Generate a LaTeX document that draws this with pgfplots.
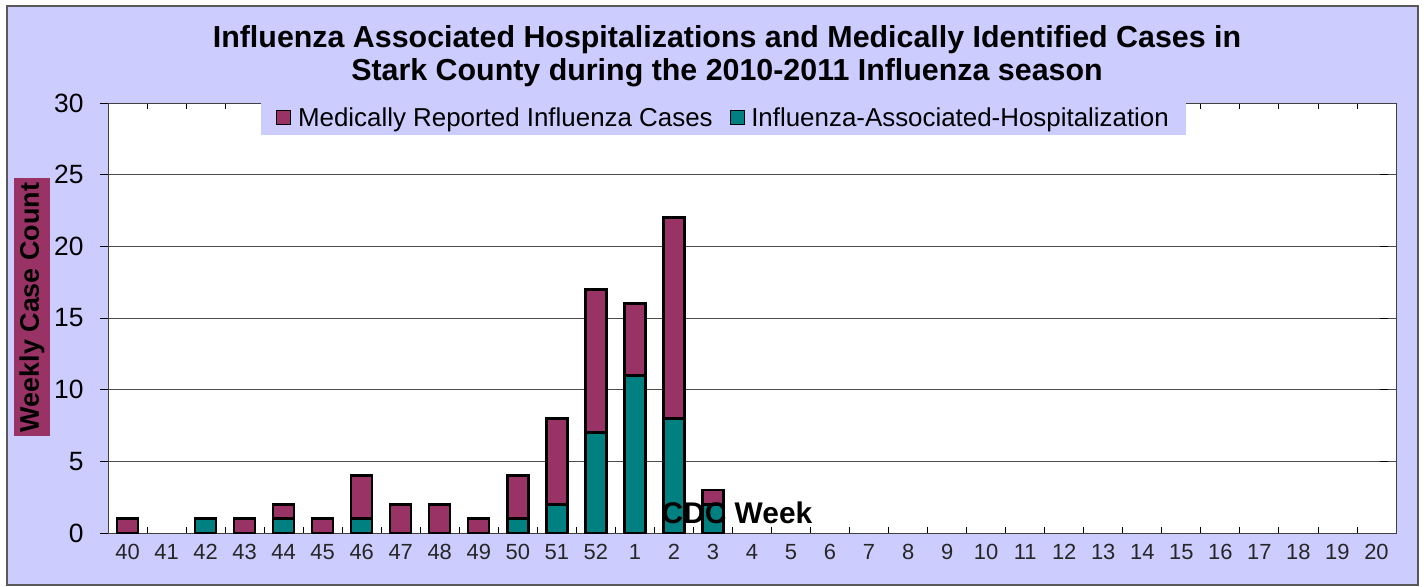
\documentclass[border=0pt]{standalone}
\usepackage{pgfplots}
\pgfplotsset{compat=1.18}
\usepackage{fontspec}
\setmainfont{Liberation Sans}
\definecolor{bg}{HTML}{CCCCFF}
\definecolor{plum}{HTML}{993366}
\definecolor{tealc}{HTML}{008080}
\begin{document}
\begin{tikzpicture}
\useasboundingbox (-108bp,-54bp) rectangle (1316bp,533bp);
\fill[white] (-108bp,-54bp) rectangle (1316bp,533bp);
\filldraw[fill=bg, draw=black!65, line width=2bp] (-101bp,-52bp) rectangle (1310bp,527bp);
\begin{axis}[
  at={(0,0)}, anchor=south west,
  scale only axis, width=1288bp, height=430bp,
  axis background/.style={fill=white},
  ybar stacked, bar width=21bp,
  xmin=-0.5, xmax=32.5, ymin=0, ymax=30,
  xtick={0,...,32},
  xticklabels={40,41,42,43,44,45,46,47,48,49,50,51,52,1,2,3,4,5,6,7,8,9,10,11,12,13,14,15,16,17,18,19,20},
  minor xtick={-0.5,0.5,...,32.5},
  ytick={0,5,...,30},
  ymajorgrids,
  major grid style={black!70, line width=0.8bp},
  tick align=inside,
  major tick length=8bp, minor tick length=6bp,
  major x tick style={draw=none},
  minor x tick style={black, line width=0.8bp},
  y tick style={black, line width=0.8bp, xshift=-8bp},
  axis line style={black!75, line width=0.9bp},
  /pgf/number format/assume math mode=true,
  yticklabel style={font=\fontsize{26.5}{30}\selectfont, xshift=-21bp},
  xticklabel style={font=\fontsize{22}{26}\selectfont, yshift=-8bp, text=black!85},
  every axis plot/.append style={draw=black, line width=2.4bp},
  reverse legend,
  legend columns=2,
  legend style={at={(0.478,0.965)}, anchor=center, fill=bg, draw=none,
    font=\fontsize{26}{30}\selectfont, inner xsep=15bp, inner ysep=5bp,
    /tikz/every even column/.append style={column sep=15bp}},
  legend image code/.code={\draw[#1, line width=0.8bp] (0bp,-6bp) rectangle (14bp,8bp); \path (18bp,0bp);},
]
\addplot[fill=tealc] coordinates {(0,0) (2,1) (3,0) (4,1) (5,0) (6,1) (7,0) (8,0) (9,0) (10,1) (11,2) (12,7) (13,11) (14,8) (15,2)};
\addlegendentry{Influenza-Associated-Hospitalization}
\addplot[fill=plum] coordinates {(0,1) (2,0) (3,1) (4,1) (5,1) (6,3) (7,2) (8,2) (9,1) (10,3) (11,6) (12,10) (13,5) (14,14) (15,1)};
\addlegendentry{Medically Reported Influenza Cases}
\end{axis}
\node[font=\fontsize{30.5}{33}\selectfont\bfseries, align=center] at (619bp,476.5bp)
  {Influenza Associated Hospitalizations and Medically Identified Cases in\\Stark County during the 2010-2011 Influenza season};
\node[fill=plum, rotate=90, minimum width=258bp, minimum height=36bp, inner sep=0pt,
  font=\fontsize{27}{30}\selectfont\bfseries] at (-76bp,225.5bp) {Weekly Case Count};
\node[font=\fontsize{30}{34}\selectfont\bfseries] at (629bp,20bp) {CDC Week};
\end{tikzpicture}
\end{document}
